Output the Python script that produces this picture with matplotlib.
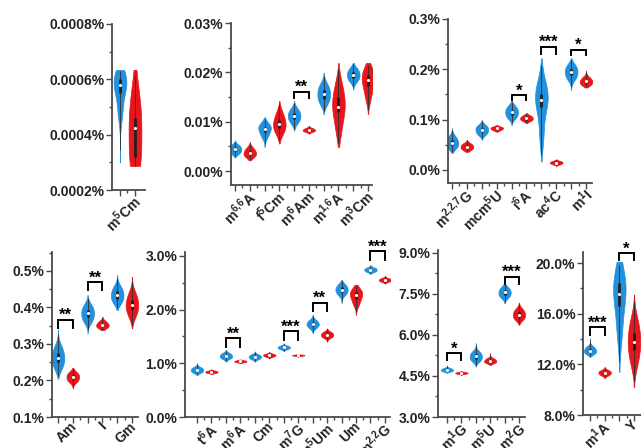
import numpy as np
import matplotlib
matplotlib.use('Agg')
from matplotlib import pyplot as plt
from matplotlib.mlab import GaussianKDE
from matplotlib.ticker import FuncFormatter, AutoMinorLocator, FixedLocator

plt.rcParams['font.family'] = ['Liberation Sans', 'DejaVu Sans']
plt.rcParams['font.weight'] = 'bold'
plt.rcParams['mathtext.fontset'] = 'custom'
plt.rcParams['mathtext.rm'] = 'Liberation Sans:bold'
plt.rcParams['mathtext.bf'] = 'Liberation Sans:bold'
plt.rcParams['mathtext.it'] = 'Liberation Sans:bold'
plt.rcParams['mathtext.default'] = 'bf'

BLUE = '#2390dc'
RED = '#e6161b'
AXC = '#4a4a4a'

# ---- data (values in %) ----
# per violin: replicate values, and the visible extent (low, high) of the violin
p1_labels = ['m$^5$Cm']
p1_blue = [[0.00048, 0.00055, 0.00058, 0.00060, 0.00062]]
p1_red = [[0.00029, 0.00032, 0.000424, 0.00046, 0.00055]]
p1_blue_ext = [(0.00030, 0.000634)]
p1_red_ext = [(0.000287, 0.000634)]
p1_sig = []

p2_labels = ['m$^{6{,}6}$A', 'f$^5$Cm', 'm$^6$Am', 'm$^{1{,}6}$A', 'm$^3$Cm']
p2_blue = [[0.0036, 0.0040, 0.0044, 0.0048, 0.0052],
           [0.0070, 0.0079, 0.0086, 0.0090, 0.0096],
           [0.0099, 0.0106, 0.0112, 0.0118, 0.0125],
           [0.0138, 0.0147, 0.0156, 0.0165, 0.0174],
           [0.0183, 0.0189, 0.0195, 0.0201, 0.0207]]
p2_red = [[0.0029, 0.0033, 0.0037, 0.0041, 0.0047],
          [0.0078, 0.0088, 0.0096, 0.0104, 0.0118],
          [0.0080, 0.0082, 0.0083, 0.0085, 0.0087],
          [0.0085, 0.0120, 0.0129, 0.0150, 0.0172],
          [0.0150, 0.0172, 0.0184, 0.0195, 0.0205]]
p2_blue_ext = [(0.0028, 0.0062), (0.0049, 0.0109), (0.0082, 0.0142),
               (0.0116, 0.0199), (0.0165, 0.0219)]
p2_red_ext = [(0.0022, 0.0059), (0.0056, 0.0142), (0.0076, 0.0092),
              (0.0049, 0.0219), (0.0116, 0.0219)]
p2_sig = [(2, 0.0161, 0.0148, '**')]

p3_labels = ['m$^{2{,}2{,}7}$G', 'mcm$^5$U', 'i$^6$A', 'ac$^4$C', 'm$^1$I']
p3_blue = [[0.044, 0.049, 0.054, 0.059, 0.066],
           [0.071, 0.075, 0.080, 0.084, 0.088],
           [0.104, 0.109, 0.115, 0.120, 0.126],
           [0.070, 0.125, 0.139, 0.150, 0.170],
           [0.181, 0.188, 0.195, 0.201, 0.208]]
p3_red = [[0.040, 0.043, 0.046, 0.049, 0.052],
          [0.079, 0.081, 0.083, 0.084, 0.086],
          [0.098, 0.100, 0.103, 0.105, 0.108],
          [0.0115, 0.013, 0.0145, 0.016, 0.0175],
          [0.169, 0.172, 0.176, 0.179, 0.184]]
p3_blue_ext = [(0.034, 0.083), (0.060, 0.099), (0.089, 0.139),
               (0.0165, 0.222), (0.159, 0.222)]
p3_red_ext = [(0.036, 0.060), (0.076, 0.089), (0.093, 0.113),
              (0.008, 0.021), (0.164, 0.197)]
p3_sig = [(2, 0.149, 0.139, '*'), (3, 0.245, 0.230, '***'), (4, 0.239, 0.229, '*')]

p4_labels = ['Am', 'I', 'Gm']
p4_blue = [[0.235, 0.250, 0.262, 0.275, 0.292],
           [0.362, 0.373, 0.384, 0.394, 0.405],
           [0.414, 0.424, 0.434, 0.444, 0.456]]
p4_red = [[0.197, 0.203, 0.210, 0.215, 0.222],
          [0.344, 0.348, 0.352, 0.356, 0.362],
          [0.378, 0.395, 0.407, 0.420, 0.438]]
p4_blue_ext = [(0.205, 0.340), (0.330, 0.434), (0.393, 0.489)]
p4_red_ext = [(0.179, 0.235), (0.338, 0.375), (0.343, 0.484)]
p4_sig = [(0, 0.367, 0.345, '**'), (1, 0.469, 0.449, '**')]

p5_labels = ['t$^6$A', 'm$^6$A', 'Cm', 'm$^7$G', 'm$^5$Um', 'Um', 'm$^{2{,}2}$G']
p5_blue = [[0.83, 0.85, 0.875, 0.90, 0.92],
           [1.09, 1.11, 1.135, 1.16, 1.185],
           [1.08, 1.10, 1.12, 1.14, 1.16],
           [1.265, 1.28, 1.295, 1.31, 1.325],
           [1.66, 1.70, 1.73, 1.76, 1.80],
           [2.28, 2.33, 2.37, 2.41, 2.46],
           [2.705, 2.72, 2.74, 2.76, 2.775]]
p5_red = [[0.82, 0.83, 0.84, 0.85, 0.86],
          [1.02, 1.028, 1.037, 1.045, 1.053],
          [1.125, 1.138, 1.15, 1.162, 1.175],
          [1.14, 1.145, 1.15, 1.155, 1.16],
          [1.48, 1.505, 1.53, 1.555, 1.58],
          [2.10, 2.20, 2.27, 2.32, 2.37],
          [2.52, 2.535, 2.55, 2.565, 2.58]]
p5_blue_ext = [(0.78, 1.00), (1.03, 1.25), (1.03, 1.22), (1.22, 1.37),
               (1.56, 1.90), (2.12, 2.55), (2.66, 2.83)]
p5_red_ext = [(0.80, 0.89), (1.00, 1.07), (1.09, 1.21), (1.12, 1.17),
              (1.40, 1.65), (1.90, 2.46), (2.48, 2.63)]
p5_sig = [(1, 1.466, 1.31, '**'), (3, 1.60, 1.43, '***'),
          (4, 2.13, 1.98, '**'), (6, 3.08, 2.92, '***')]

p6_labels = ['m$^1$G', 'm$^5$U', 'm$^2$G']
p6_blue = [[4.67, 4.695, 4.72, 4.75, 4.78],
           [5.05, 5.13, 5.21, 5.29, 5.38],
           [7.38, 7.46, 7.55, 7.63, 7.72]]
p6_red = [[4.58, 4.595, 4.61, 4.625, 4.64],
          [4.98, 5.01, 5.05, 5.09, 5.14],
          [6.57, 6.65, 6.74, 6.83, 6.93]]
p6_blue_ext = [(4.62, 4.88), (4.84, 5.70), (7.15, 7.95)]
p6_red_ext = [(4.54, 4.68), (4.90, 5.33), (6.37, 7.18)]
p6_sig = [(0, 5.34, 5.09, '*'), (2, 8.13, 7.87, '***')]

p7_labels = ['m$^1$A', 'Y']
p7_blue = [[12.85, 12.96, 13.08, 13.22, 13.38],
           [14.5, 16.6, 17.55, 18.4, 19.2]]
p7_red = [[11.15, 11.25, 11.34, 11.43, 11.52],
          [12.2, 13.1, 13.8, 14.5, 15.4]]
p7_blue_ext = [(12.6, 14.05), (11.4, 20.1)]
p7_red_ext = [(10.9, 11.8), (10.2, 17.5)]
p7_sig = [(0, 14.95, 14.3, '***'), (1, 20.8, 20.2, '*')]

W, H = 641, 448
fig = plt.figure(figsize=(W / 100, H / 100), dpi=100)


def make_axes(L, R, T, B):
    return fig.add_axes([L / W, 1 - B / H, (R - L) / W, (B - T) / H])


def vstats(d, ext):
    d = np.asarray(d, float)
    coords = np.linspace(ext[0], ext[1], 150)
    vals = GaussianKDE(d, 'scott').evaluate(coords)
    return dict(coords=coords, vals=vals, mean=d.mean(), median=np.median(d),
                min=ext[0], max=ext[1])


def panel(ax, labels, blue, red, bext, rext, sig, ylim, yticks, dec, xlim):
    n = len(labels)
    data, exts, cols = [], [], []
    for b, r, be, re in zip(blue, red, bext, rext):
        data += [b, r]
        exts += [be, re]
        cols += [BLUE, RED]
    pos = np.arange(1, 2 * n + 1)
    stats = [vstats(d, e) for d, e in zip(data, exts)]
    parts = ax.violin(stats, positions=pos, widths=0.85, showextrema=False)
    for body, c in zip(parts['bodies'], cols):
        body.set_facecolor(c)
        body.set_edgecolor(c)
        body.set_linewidth(0.5)
        body.set_alpha(1)
    for p, d, e in zip(pos, data, exts):
        q1, med, q3 = np.percentile(d, [25, 50, 75])
        lo = e[0] + 0.25 * (min(d) - e[0])
        hi = e[1] - 0.25 * (e[1] - max(d))
        ax.vlines(p, lo, hi, color='#303030', lw=0.6, zorder=3)
        ax.vlines(p, q1, q3, color='#202020', lw=2.0, zorder=3)
        ax.scatter([p], [med], s=5, color='white', zorder=4, lw=0)
    for i, yh, yl, st in sig:
        x1, x2 = 2 * i + 1, 2 * i + 2
        ax.plot([x1, x1, x2, x2], [yl, yh, yh, yl], color='black', lw=1.4,
                clip_on=False, solid_joinstyle='miter')
        ax.annotate(st, xy=((x1 + x2) / 2, yh), xytext=(0, -2.5),
                    textcoords='offset points', ha='center', va='bottom',
                    fontsize=12, fontweight='bold', annotation_clip=False)
    for k, lab in enumerate(labels):
        c = 2 * k + 1.5
        ax.annotate(lab, xy=(c, 0), xycoords=ax.get_xaxis_transform(),
                    xytext=(3, -2), textcoords='offset points', rotation=45,
                    ha='right', va='top', rotation_mode='anchor',
                    fontsize=10, fontweight='bold', color='#222222')
    ax.set_xlim(xlim)
    ax.set_ylim(ylim)
    ax.set_yticks(yticks)
    ax.yaxis.set_minor_locator(AutoMinorLocator(2))
    ax.yaxis.set_major_formatter(FuncFormatter(lambda v, p: f'{v:.{dec}f}%'))
    ax.set_xticks(pos)
    ax.set_xticklabels([])
    ax.xaxis.set_minor_locator(FixedLocator(pos[:-1] + 0.5))
    for s in ['top', 'right']:
        ax.spines[s].set_visible(False)
    for s in ['left', 'bottom']:
        ax.spines[s].set_color(AXC)
        ax.spines[s].set_linewidth(1.3)
    ax.tick_params(which='major', length=4, width=1, color=AXC, pad=1.5,
                   labelsize=10, labelcolor='#222222')
    ax.tick_params(which='minor', length=2.5, width=1, color=AXC)
    ax.set_facecolor('none')


ax1 = make_axes(112, 145, 24, 190)
panel(ax1, p1_labels, p1_blue, p1_red, p1_blue_ext, p1_red_ext, p1_sig,
      (0.0002, 0.0008), [0.0002, 0.0004, 0.0006, 0.0008], 4, (0.467, 2.667))

ax2 = make_axes(231, 372, 23, 185)
panel(ax2, p2_labels, p2_blue, p2_red, p2_blue_ext, p2_red_ext, p2_sig,
      (-0.0028, 0.0300), [0, 0.01, 0.02, 0.03], 2, (0.73, 10.27))

ax3 = make_axes(448, 592, 19, 183)
panel(ax3, p3_labels, p3_blue, p3_red, p3_blue_ext, p3_red_ext, p3_sig,
      (-0.026, 0.300), [0, 0.1, 0.2, 0.3], 1, (0.73, 10.4))

ax4 = make_axes(52, 138, 252, 417)
panel(ax4, p4_labels, p4_blue, p4_red, p4_blue_ext, p4_red_ext, p4_sig,
      (0.1, 0.552), [0.1, 0.2, 0.3, 0.4, 0.5], 1, (0.595, 6.405))

ax5 = make_axes(185, 390, 252, 417)
panel(ax5, p5_labels, p5_blue, p5_red, p5_blue_ext, p5_red_ext, p5_sig,
      (0, 3.07), [0, 1, 2, 3], 1, (0.17, 14.35))

ax6 = make_axes(438, 525, 250, 417)
panel(ax6, p6_labels, p6_blue, p6_red, p6_blue_ext, p6_red_ext, p6_sig,
      (3, 9.1), [3, 4.5, 6, 7.5, 9], 1, (0.375, 6.42))

ax7 = make_axes(583, 645, 252, 415)
panel(ax7, p7_labels, p7_blue, p7_red, p7_blue_ext, p7_red_ext, p7_sig,
      (8, 20.87), [8, 12, 16, 20], 1, (0.523, 4.75))

plt.savefig('out.png', dpi=100)
